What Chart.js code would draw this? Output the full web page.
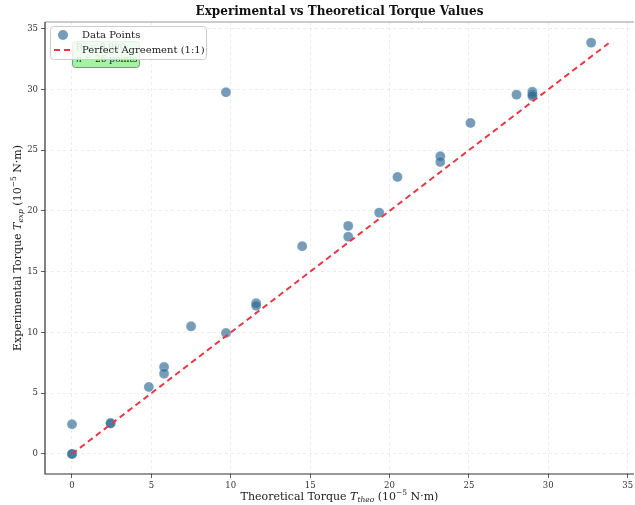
<!DOCTYPE html>
<html>
<head>
<meta charset="utf-8">
<script src="https://cdn.jsdelivr.net/npm/chart.js@4.4.1/dist/chart.umd.min.js"></script>
<style>
  html, body { margin: 0; padding: 0; background: #fff; }
  #wrap { width: 635px; height: 505px; }
</style>
</head>
<body>
<div id="wrap"><canvas id="torqueChart" width="635" height="505"></canvas></div>
<script>
// theoretical torque (x) and measured torque (y), units 1e-5 N·m
const theoTorque = [0, 0, 0, 2.43, 2.43, 4.84, 5.8, 5.8, 7.5, 9.7, 9.7, 11.6, 11.6, 14.5, 17.4, 17.4, 19.35, 20.5, 23.2, 23.2, 25.1, 28.0, 29.0, 29.0, 29.0, 32.7];
const expTorque  = [0, 0, 2.44, 2.55, 2.5, 5.51, 7.16, 6.61, 10.5, 9.95, 29.77, 12.4, 12.2, 17.1, 18.77, 17.88, 19.86, 22.8, 24.5, 24.03, 27.24, 29.57, 29.8, 29.6, 29.45, 33.85];
// 1:1 reference line
const lineX = [0, 33.8];
const tickValues = [0, 5, 10, 15, 20, 25, 30, 35];
const annotationLines = ['R² = 0.890', 'n = 26 points'];

const SERIF = "'DejaVu Serif', serif";
const pointColor = 'rgba(46,106,148,0.66)';
const lineColor = '#e63946';

// draw a label made of pieces with different fonts / offsets
function richText(ctx, parts, cx, cy, rotate) {
    ctx.save();
    ctx.translate(cx, cy);
    if (rotate) ctx.rotate(-Math.PI / 2);
    let total = 0;
    parts.forEach(p => { ctx.font = p.font; total += ctx.measureText(p.t).width; });
    let x = -total / 2;
    ctx.textBaseline = 'middle';
    ctx.textAlign = 'left';
    ctx.fillStyle = '#222';
    parts.forEach(p => {
        ctx.font = p.font;
        ctx.fillText(p.t, x, p.dy || 0);
        x += ctx.measureText(p.t).width;
    });
    ctx.restore();
}

const decorPlugin = {
    id: 'decor',
    afterDraw(chart) {
        const ctx = chart.ctx;
        const a = chart.chartArea;

        // spines
        ctx.save();
        ctx.strokeStyle = '#999';
        ctx.lineWidth = 1.2;
        ctx.beginPath();
        ctx.moveTo(a.left, a.top); ctx.lineTo(a.right, a.top);
        ctx.stroke();
        ctx.strokeStyle = '#333';
        ctx.beginPath();
        ctx.moveTo(a.left, a.top); ctx.lineTo(a.left, a.bottom); ctx.lineTo(a.right, a.bottom);
        ctx.stroke();
        ctx.restore();

        // title
        ctx.save();
        ctx.font = "bold 12px " + SERIF;
        ctx.fillStyle = '#111';
        ctx.textAlign = 'center';
        ctx.textBaseline = 'middle';
        ctx.fillText('Experimental vs Theoretical Torque Values', (a.left + a.right) / 2, 12);
        ctx.restore();

        // axis labels
        const reg = "11px " + SERIF, ita = "italic 11px " + SERIF, sm = "7.5px " + SERIF, smi = "italic 7.5px " + SERIF;
        richText(ctx, [
            { t: 'Theoretical Torque ', font: reg },
            { t: 'T', font: ita },
            { t: 'theo', font: smi, dy: 3 },
            { t: ' (10', font: reg },
            { t: '−5', font: sm, dy: -4 },
            { t: ' N·m)', font: reg }
        ], (a.left + a.right) / 2, 497, false);
        richText(ctx, [
            { t: 'Experimental Torque ', font: reg },
            { t: 'T', font: ita },
            { t: 'exp', font: smi, dy: 3 },
            { t: ' (10', font: reg },
            { t: '−5', font: sm, dy: -4 },
            { t: ' N·m)', font: reg }
        ], 18, (a.top + a.bottom) / 2, true);

        // stats box
        ctx.save();
        ctx.fillStyle = 'rgba(144,238,144,0.8)';
        ctx.strokeStyle = '#5a8a5a';
        ctx.lineWidth = 0.8;
        ctx.beginPath();
        ctx.roundRect(72.5, 41.5, 67, 26, 3);
        ctx.fill(); ctx.stroke();
        ctx.fillStyle = '#222';
        ctx.font = "9px " + SERIF;
        ctx.textBaseline = 'middle';
        ctx.fillText(annotationLines[0], 76, 48);
        ctx.font = "italic 9px " + SERIF;
        ctx.fillText('n', 76, 60);
        const nw = ctx.measureText('n').width;
        ctx.font = "9px " + SERIF;
        ctx.fillText(annotationLines[1].slice(1), 76 + nw, 60);
        ctx.restore();

        // legend
        ctx.save();
        ctx.fillStyle = 'rgba(255,255,255,0.85)';
        ctx.strokeStyle = '#ccc';
        ctx.lineWidth = 1;
        ctx.beginPath();
        ctx.roundRect(50.5, 26.5, 156, 33, 3);
        ctx.fill(); ctx.stroke();
        ctx.fillStyle = pointColor;
        ctx.beginPath();
        ctx.arc(63, 35, 5, 0, Math.PI * 2);
        ctx.fill();
        ctx.strokeStyle = lineColor;
        ctx.lineWidth = 2;
        ctx.setLineDash([6, 4]);
        ctx.beginPath();
        ctx.moveTo(54, 50); ctx.lineTo(74, 50);
        ctx.stroke();
        ctx.setLineDash([]);
        ctx.fillStyle = '#222';
        ctx.font = "10px " + SERIF;
        ctx.textBaseline = 'middle';
        ctx.fillText('Data Points', 82, 35);
        ctx.fillText('Perfect Agreement (1:1)', 82, 50);
        ctx.restore();
    }
};

const fixTicks = function (scale) {
    scale.ticks = tickValues.map(v => ({ value: v }));
};

new Chart(document.getElementById('torqueChart'), {
    type: 'scatter',
    data: {
        datasets: [{
            label: 'Perfect Agreement (1:1)',
            type: 'line',
            data: lineX.map(v => ({ x: v, y: v })),
            borderColor: lineColor,
            borderWidth: 2,
            borderDash: [6, 4],
            pointRadius: 0,
            fill: false,
            order: 0
        }, {
            label: 'Data Points',
            data: theoTorque.map((v, i) => ({ x: v, y: expTorque[i] })),
            backgroundColor: pointColor,
            borderColor: 'rgba(255,255,255,0.4)',
            borderWidth: 0.5,
            pointRadius: 5,
            order: 1
        }]
    },
    options: {
        responsive: false,
        animation: false,
        layout: { autoPadding: false, padding: { top: 22, right: 1, left: 0, bottom: 0 } },
        plugins: {
            legend: { display: false },
            title: { display: false },
            tooltip: { enabled: false }
        },
        scales: {
            x: {
                type: 'linear',
                min: -1.7,
                max: 35.4,
                afterBuildTicks: fixTicks,
                afterFit: function (scale) {
                    scale.height = 31;
                    scale.paddingLeft = 0;
                    scale.paddingRight = 0;
                },
                ticks: { font: { family: SERIF, size: 8.5 }, color: '#333', padding: 3, maxRotation: 0 },
                grid: { color: 'rgba(0,0,0,0.09)', lineWidth: 0.8, tickColor: '#333', tickLength: 4 },
                border: { display: false, dash: [3, 3] }
            },
            y: {
                type: 'linear',
                min: -1.65,
                max: 35.55,
                afterBuildTicks: fixTicks,
                afterFit: function (scale) {
                    scale.width = 45;
                    scale.paddingTop = 0;
                    scale.paddingBottom = 0;
                },
                ticks: { font: { family: SERIF, size: 8.5 }, color: '#333', padding: 3 },
                grid: { color: 'rgba(0,0,0,0.09)', lineWidth: 0.8, tickColor: '#333', tickLength: 4 },
                border: { display: false, dash: [3, 3] }
            }
        }
    },
    plugins: [decorPlugin]
});
</script>
</body>
</html>
